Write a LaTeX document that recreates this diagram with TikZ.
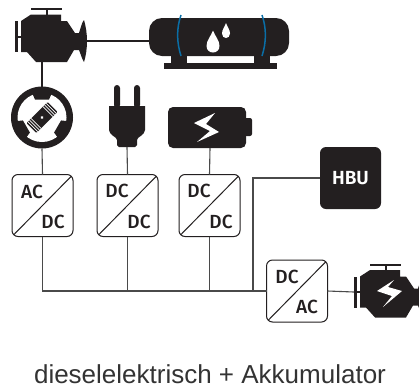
\documentclass[tikz,border=0pt]{standalone}
\usepackage{fontspec}
\setmainfont{Liberation Sans}
\newfontfamily\labelfont[UprightFont=* Medium, BoldFont=* SemiBold]{Fira Sans}
\usepackage{xcolor}
\usepackage{tikz}
\usetikzlibrary{calc}

\definecolor{iconblack}{HTML}{231F20}
\definecolor{tankblue}{HTML}{0A6EA6}
\definecolor{wiregray}{HTML}{4A4A4A}
\definecolor{captiongray}{HTML}{333333}

\begin{document}
\begin{tikzpicture}[
  x=1pt, y=-1pt,
  conv/.style     = {draw=iconblack, line width=1pt, rounded corners=6pt, inner sep=0pt,
                     outer sep=0pt, minimum width=61pt, minimum height=62pt, fill=white,
                     path picture={\draw[iconblack, line width=1pt]
                       (path picture bounding box.north east) -- (path picture bounding box.south west);}},
  convtxt/.style  = {inner sep=0pt, text=iconblack, font=\labelfont\fontsize{19}{20}\selectfont},
  blackbox/.style = {fill=iconblack, rounded corners=6pt, inner sep=0pt, outer sep=0pt},
  wire/.style     = {draw=wiregray, line width=1.1pt},
  shaft/.style    = {draw=iconblack, line width=1.6pt},
  hoop/.style     = {draw=tankblue, line width=1.5pt},
  droplet/.pic    = {\fill[white] (0,-1) .. controls (0.3,-0.5) and (1,-0.1) .. (1,0.4)
                       .. controls (1,0.8) and (0.5,1) .. (0,1)
                       .. controls (-0.5,1) and (-1,0.8) .. (-1,0.4)
                       .. controls (-1,-0.1) and (-0.3,-0.5) .. (0,-1) -- cycle;},
  engine/.pic     = {
    \fill[iconblack] (21,21) -- (31,14.5) -- (61,14.5) -- (61,21) -- (67,21) -- (75,33)
      -- (79,33) .. controls (81,27) and (82,22) .. (84,20)
      .. controls (86,27) and (87,34) .. (87,41)
      .. controls (87,48) and (86,56) .. (84,62)
      .. controls (82,59) and (81,55) .. (79,50)
      -- (74,50) -- (67,62) -- (36,62) -- (27,52) -- (21,52) -- cycle;
    \fill[iconblack] (15,21) rectangle (18,52);
    \fill[iconblack] (17,35.5) rectangle (22,37.5);
    \fill[iconblack] (31,8) rectangle (62,10);
    \fill[iconblack] (45.5,9) rectangle (47.5,15);
    \coordinate (-out) at (87,41);
    \coordinate (-in) at (15,36.5);
    \coordinate (-down) at (42,62);
  },
]
\useasboundingbox (0,0) rectangle (419,386);

%% Tank
\node[blackbox, rounded corners=13pt, minimum width=140pt, minimum height=38pt] (tank) at (219,37) {};
\fill[iconblack] (171,55) rectangle (187,64);
\fill[iconblack] (254,55) rectangle (270,64);
\fill[iconblack] (164,63) rectangle (277,69);
\draw[hoop] (181,15) .. controls (176.5,28) and (176.5,42) .. (181,56);
\draw[hoop] (262,15) .. controls (266.5,28) and (266.5,42) .. (262,56);
\pic at (213,41.5) [xscale=6.5, yscale=11] {droplet};
\pic at (226,30.5) [xscale=4, yscale=7.5] {droplet};

%% Diesel engine
\pic (diesel) at (0,0) {engine};
\draw[shaft] (diesel-out) -- (diesel-out -| tank.west);

%% Generator
\node[circle, fill=iconblack, minimum size=62pt, inner sep=0pt, outer sep=0pt] (gen) at (42,117.5) {};
\fill[white] (gen.center) circle (24.5);
\foreach \ang in {0,120,240} {
  \fill[iconblack, shift={(gen.center)}, rotate=\ang] (-10.5,-26) -- (-7,-18) -- (7,-18) -- (10.5,-26) -- cycle;
}
\begin{scope}[shift={(gen.center)}, rotate=45]
  \fill[iconblack, rounded corners=1pt] (-15,-7) rectangle (15,7);
  \fill[white] (0,0) circle (1.5);
  \foreach \xx in {-13,-10.7,-8.4,8.4,10.7,13} {
    \draw[white, line width=0.8pt] (\xx,-7) -- (\xx,7);
  }
\end{scope}
\draw[shaft] (diesel-down) -- (gen.north);

%% Plug
\fill[iconblack, rounded corners=3pt] (114,108) -- (114,85) -- (120,85) -- (120,108) -- cycle;
\fill[iconblack, rounded corners=3pt] (134,108) -- (134,85) -- (140,85) -- (140,108) -- cycle;
\fill[iconblack] (109,106) -- (145,106) -- (145,130) .. controls (145,135) and (137,137) .. (137,140)
  -- (137,145) -- (135,147) -- (119,147) -- (117,145) -- (117,140)
  .. controls (117,137) and (109,135) .. (109,130) -- cycle;
\coordinate (plug) at (127,147);

%% Battery
\node[blackbox, rounded corners=5pt, minimum width=78pt, minimum height=41pt] (batt) at (207,127.5) {};
\fill[iconblack, rounded corners=2pt] (244,118) rectangle (252,136);
\fill[white] (215,113) -- (194,123) -- (210,131) -- (197,142) -- (219,132) -- (206,124) -- cycle;
\coordinate (battout) at (210,148);

%% Converters
\node[conv] (conv1) at (42.5,205.5) {};
\node[conv] (conv2) at (127.5,205.5) {};
\node[conv] (conv3) at (209.5,205.5) {};
\node[conv] (conv4) at (297,291) {};
\node[convtxt] (c1a) at (32,192) {AC};
\node[convtxt] (c1b) at (53,222) {DC};
\node[convtxt] (c2a) at (117,191) {DC};
\node[convtxt] (c2b) at (139,222) {DC};
\node[convtxt] (c3a) at (199,191) {DC};
\node[convtxt] (c3b) at (221,222) {DC};
\node[convtxt] (c4a) at (287,277) {DC};
\node[convtxt] (c4b) at (307,307) {AC};

%% HBU
\node[blackbox, text=white, minimum width=61pt, minimum height=62pt,
      font=\labelfont\bfseries\fontsize{19}{20}\selectfont] (hbu) at (350.5,178) {HBU};

%% Electric engine
\begin{scope}
  \clip (340,255) rectangle (419,330);
  \pic (emotor) at (339,255.5) {engine};
  \fill[white] (394,280) -- (377,291) -- (392,296) -- (383,307) -- (402,291) -- (388,287) -- cycle;
\end{scope}

%% Wiring
\coordinate (bus1) at (conv1.south |- conv4.west);
\coordinate (bus2) at (conv2.south |- conv4.west);
\coordinate (bus3) at (conv3.south |- conv4.west);
\coordinate (hbujoin) at (253,0 |- conv4.west);
\draw[wire] (gen.south) -- (conv1.north);
\draw[wire] (plug) -- (conv2.north);
\draw[wire] (battout) -- (conv3.north);
\draw[wire] (conv1.south) -- (bus1) -- (conv4.west);
\draw[wire] (conv2.south) -- (bus2);
\draw[wire] (conv3.south) -- (bus3);
\draw[wire] (hbu.west) -| (hbujoin);
\draw[wire] (conv4.east) -- (emotor-in);

%% Caption
\node[inner sep=0pt, text=captiongray, font=\fontsize{26}{30}\selectfont] (caption) at (210,374)
     {dieselelektrisch + Akkumulator};

\end{tikzpicture}
\end{document}
